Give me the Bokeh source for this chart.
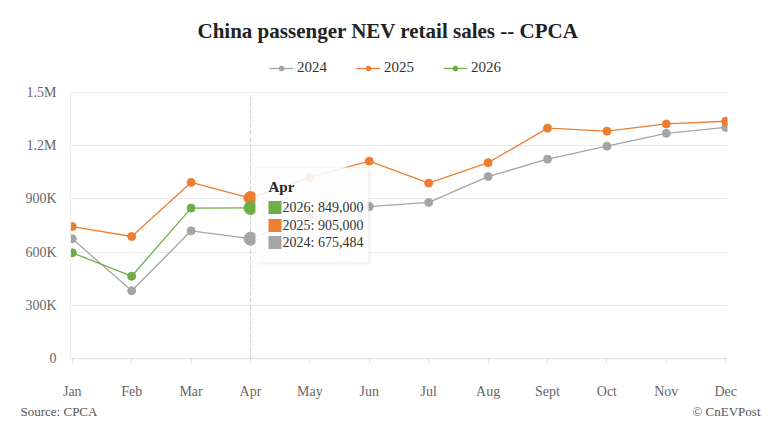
from bokeh.plotting import figure
from bokeh.layouts import column
from bokeh.models import (Legend, LegendItem, BoxAnnotation, Label,
                          FixedTicker, Range1d)
from bokeh.embed import file_html
from bokeh.resources import INLINE

months = ["Jan", "Feb", "Mar", "Apr", "May", "Jun", "Jul", "Aug", "Sept", "Oct", "Nov", "Dec"]
sales_2024 = [675000, 382000, 720000, 675484, 804000, 857000, 880000, 1026000, 1124000, 1197000, 1270000, 1303000]
sales_2025 = [744000, 688000, 993000, 905000, 1021000, 1113000, 989000, 1104000, 1299000, 1282000, 1323000, 1338000]
sales_2026 = [596000, 464000, 848000, 849000]
y_ticks = [0, 300000, 600000, 900000, 1200000, 1500000]
y_tick_labels = ["0", "300K", "600K", "900K", "1.2M", "1.5M"]
hover_index = 3

series = [("2024", sales_2024, "#a5a5a5"),
          ("2025", sales_2025, "#ed7d31"),
          ("2026", sales_2026, "#70ad47")]

FONT = "Liberation Serif"

# layout: frame spans from y=44 to y=358; the value axis top (1.5M) sits at y=92
FRAME_TOP, AXIS_TOP, AXIS_BOTTOM = 44, 92, 358
y_end = y_ticks[-1] * (AXIS_BOTTOM - FRAME_TOP) / (AXIS_BOTTOM - AXIS_TOP)

p = figure(width=768, height=402, output_backend="svg", toolbar_location=None,
           x_range=Range1d(-0.03, 11.03), y_range=Range1d(0, y_end),
           min_border_left=70, min_border_right=41, min_border_top=FRAME_TOP,
           min_border_bottom=402 - AXIS_BOTTOM, outline_line_color=None,
           background_fill_color="white", border_fill_color="white",
           frame_align=False)

p.title.text = "China passenger NEV retail sales -- CPCA"
p.title.align = "left"
p.title.offset = 127
p.title.text_font = FONT
p.title.text_font_size = "21px"
p.title.text_font_style = "bold"
p.title.text_color = "#222222"
p.title.standoff = 3

# crosshair at hovered month
p.segment(x0=[hover_index], y0=[y_ticks[0]], x1=[hover_index], y1=[y_ticks[-1]],
          line_color="#d0d0d0", line_dash="4 3", line_width=1)

items = []
for name, vals, color in series:
    xs = list(range(len(vals)))
    ln = p.line(xs, vals, line_color=color, line_width=1.3)
    sc = p.scatter(xs, vals, size=8, fill_color=color, line_color=color)
    items.append(LegendItem(label=name, renderers=[ln, sc]))
for name, vals, color in series:
    p.scatter([hover_index], [vals[hover_index]], size=13, fill_color=color,
              line_color=color, marker="circle")

legend = Legend(items=items, orientation="horizontal", location=(199, 282),
                label_text_font=FONT, label_text_font_size="15px",
                label_text_color="#333333", glyph_width=24, glyph_height=12,
                label_height=16, label_standoff=4, spacing=29,
                border_line_color=None, background_fill_alpha=0, padding=2,
                margin=0)
p.add_layout(legend)

# axes
p.xaxis.ticker = FixedTicker(ticks=list(range(len(months))))
p.xaxis.major_label_overrides = {i: m for i, m in enumerate(months)}
p.xaxis.axis_line_color = "#dddddd"
p.xaxis.major_tick_line_color = "#dddddd"
p.xaxis.major_tick_out = 5
p.xaxis.major_tick_in = 0
p.xaxis.minor_tick_line_color = None
p.xaxis.major_label_standoff = 20
p.xaxis.major_label_text_font = FONT
p.xaxis.major_label_text_font_size = "14px"
p.xaxis.major_label_text_color = "#666666"

p.yaxis.ticker = FixedTicker(ticks=y_ticks)
p.yaxis.major_label_overrides = {t: l for t, l in zip(y_ticks, y_tick_labels)}
p.yaxis.bounds = (y_ticks[0], y_ticks[-1])
p.yaxis.axis_line_color = "#eeeeee"
p.yaxis.major_tick_line_color = None
p.yaxis.minor_tick_line_color = None
p.yaxis.major_label_standoff = 8
p.yaxis.major_label_text_font = FONT
p.yaxis.major_label_text_font_size = "14px"
p.yaxis.major_label_text_color = "#666666"

p.xgrid.grid_line_color = None
p.ygrid.grid_line_color = "#e9e9e9"

# tooltip box (screen units, relative to the frame's bottom-left)
p.add_layout(BoxAnnotation(left=187, right=301, top=189, bottom=94,
                           left_units="screen", right_units="screen",
                           top_units="screen", bottom_units="screen",
                           fill_color="#000000", fill_alpha=0.04, line_color=None))
p.add_layout(BoxAnnotation(left=185, right=298, top=191, bottom=96,
                           left_units="screen", right_units="screen",
                           top_units="screen", bottom_units="screen",
                           fill_color="white", fill_alpha=0.88,
                           line_color="#e4e4e4", line_width=1))
p.add_layout(Label(x=198, y=172, x_units="screen", y_units="screen",
                   text=months[hover_index], text_font=FONT, text_font_size="15px",
                   text_font_style="bold", text_color="#222222", text_baseline="middle"))
row_y = [151, 133, 116]
for (name, vals, color), ry in zip(reversed(series), row_y):
    p.add_layout(BoxAnnotation(left=198, right=211, top=ry + 6.5, bottom=ry - 6.5,
                               left_units="screen", right_units="screen",
                               top_units="screen", bottom_units="screen",
                               fill_color=color, fill_alpha=1, line_color=None))
    p.add_layout(Label(x=212, y=ry, x_units="screen", y_units="screen",
                       text=f"{name}: {vals[hover_index]:,}", text_font=FONT,
                       text_font_size="14px", text_color="#333333",
                       text_baseline="middle"))

# footer strip
f = figure(width=768, height=30, output_backend="svg", toolbar_location=None,
           x_range=Range1d(0, 768), y_range=Range1d(0, 30), min_border=0,
           outline_line_color=None, background_fill_color="white",
           border_fill_color="white", frame_align=False)
f.axis.visible = False
f.grid.visible = False
f.add_layout(Label(x=20, y=21, text="Source: CPCA", text_font=FONT,
                   text_font_size="13px", text_color="#555555",
                   text_baseline="middle"))
f.add_layout(Label(x=760, y=21, text="© CnEVPost", text_font=FONT,
                   text_font_size="13px", text_color="#555555",
                   text_baseline="middle", text_align="right"))

layout = column(p, f, spacing=0)
open("out.html", "w").write(file_html(layout, INLINE))
